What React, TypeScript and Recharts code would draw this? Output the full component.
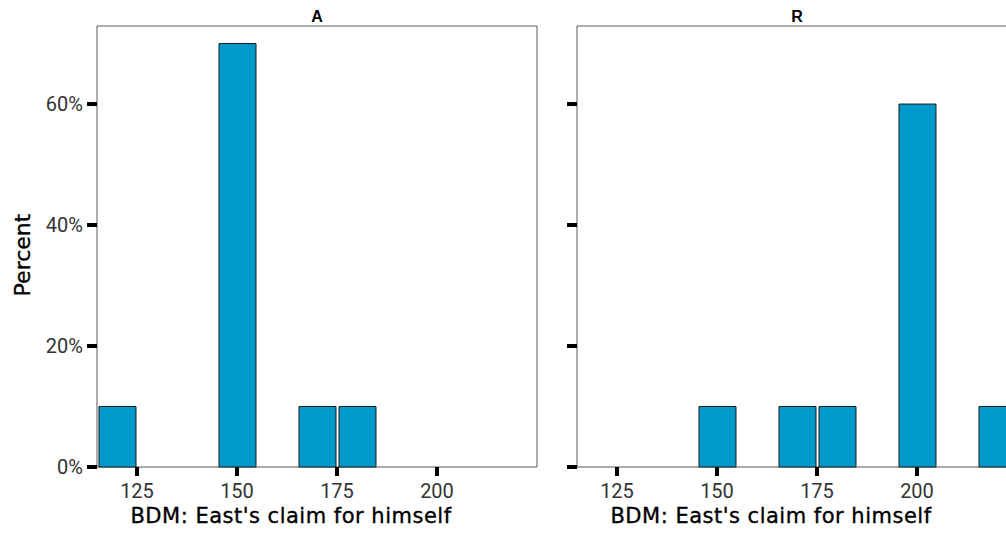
import { BarChart, Bar, XAxis, YAxis, ReferenceArea } from "recharts"

// claim bins (centre of each 10-wide bin) and share of players, per treatment
const claimsA = [120, 150, 170, 180]
const shareA = [0.1, 0.7, 0.1, 0.1]

const claimsR = [150, 170, 180, 200, 220]
const shareR = [0.1, 0.1, 0.1, 0.6, 0.1]

const xTicks = [125, 150, 175, 200]
const yTicks = [0, 0.2, 0.4, 0.6]

const X_MIN = 115
const X_MAX = 225
const Y_MAX = 0.729

const BAR_FILL = "#0099cc"
const TITLE_FONT = "'DejaVu Sans', sans-serif"
const TICK_FONT = "Roboto, sans-serif"

const toRows = (claims: number[], shares: number[]) =>
  claims.map((claim, i) => ({ claim, pct: shares[i] }))

// tick text drawn by hand so the font settings stick
function XTick(props: any) {
  const { x, y, payload } = props
  return (
    <text x={x} y={y + 15} textAnchor="middle" fill="#333" fontSize={20} fontFamily={TICK_FONT}>
      {payload.value}
    </text>
  )
}

function YTick(props: any) {
  const { x, y, payload, show } = props
  if (!show) return null
  return (
    <text x={x} y={y + 7} textAnchor="end" fill="#333" fontSize={20} fontFamily={TICK_FONT}>
      {`${Math.round(payload.value * 100)}%`}
    </text>
  )
}

type PanelProps = {
  facet: string
  claims: number[]
  shares: number[]
  width: number
  axisWidth: number
  showYLabels: boolean
}

function Panel({ facet, claims, shares, width, axisWidth, showYLabels }: PanelProps) {
  const rows = toRows(claims, shares)

  return (
    <BarChart
      width={width}
      height={539}
      data={rows}
      margin={{ top: 26, right: 3, bottom: 0, left: 0 }}
    >
      <XAxis
        type="number"
        dataKey="claim"
        domain={[X_MIN, X_MAX]}
        ticks={xTicks}
        height={72}
        axisLine={false}
        tickLine={{ stroke: "#000", strokeWidth: 4 }}
        tickSize={9}
        tickMargin={7}
        tick={<XTick />}
        label={(p: any) => {
          const vb = p.viewBox
          return (
            <text
              x={vb.x + vb.width / 2 - 26}
              y={523}
              textAnchor="middle"
              fill="#000"
              stroke="#000"
              strokeWidth={0.35}
              fontSize={21}
              fontFamily={TITLE_FONT}
              letterSpacing={0.5}
            >
              BDM: East's claim for himself
            </text>
          )
        }}
      />
      <YAxis
        type="number"
        domain={[0, Y_MAX]}
        ticks={yTicks}
        width={axisWidth}
        axisLine={false}
        tickLine={{ stroke: "#000", strokeWidth: 4 }}
        tickSize={10}
        tickMargin={4}
        tick={<YTick show={showYLabels} />}
        label={
          showYLabels
            ? () => (
                <text
                  x={30}
                  y={255}
                  transform="rotate(-90, 30, 255)"
                  textAnchor="middle"
                  fill="#000"
                  stroke="#000"
                  strokeWidth={0.35}
                  fontSize={22}
                  fontFamily={TITLE_FONT}
                >
                  Percent
                </text>
              )
            : undefined
        }
      />
      {/* panel frame with the facet name on top */}
      <ReferenceArea
        x1={X_MIN}
        x2={X_MAX}
        y1={0}
        y2={Y_MAX}
        fill="none"
        stroke="#5a5a5a"
        strokeWidth={1}
        label={(p: any) => {
          const vb = p.viewBox
          return (
            <text
              x={vb.x + vb.width / 2}
              y={vb.y - 4}
              textAnchor="middle"
              fill="#000"
              fontSize={16}
              fontWeight={700}
              fontFamily="'Liberation Sans', Arial, sans-serif"
            >
              {facet}
            </text>
          )
        }}
      />
      <Bar
        dataKey="pct"
        barSize={37}
        fill={BAR_FILL}
        stroke="#1a1a1a"
        strokeWidth={1}
        isAnimationActive={false}
      />
    </BarChart>
  )
}

export default function App() {
  return (
    <div
      style={{
        position: "absolute",
        left: 0,
        top: 0,
        width: 1006,
        height: 539,
        overflow: "hidden",
        background: "#fff",
      }}
    >
      <div style={{ position: "absolute", left: 0, top: 0 }}>
        <Panel facet="A" claims={claimsA} shares={shareA} width={540} axisWidth={97} showYLabels />
      </div>
      <div style={{ position: "absolute", left: 540, top: 0 }}>
        <Panel facet="R" claims={claimsR} shares={shareR} width={480} axisWidth={37} showYLabels={false} />
      </div>
    </div>
  )
}
